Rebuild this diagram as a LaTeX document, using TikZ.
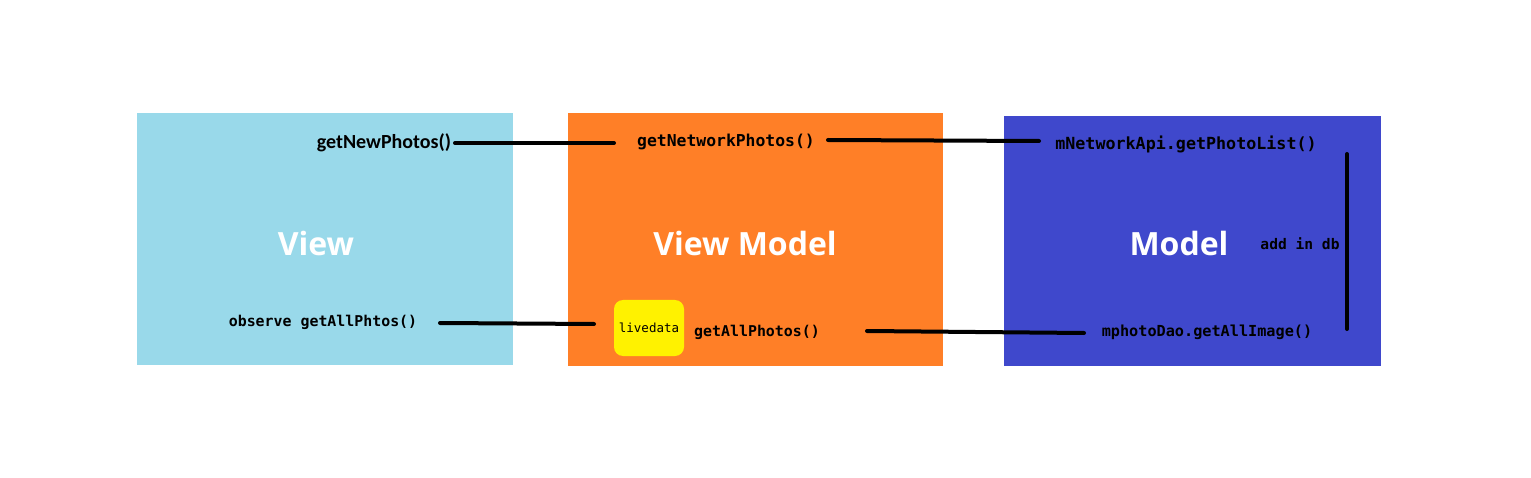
\documentclass[tikz,border=0pt]{standalone}
\usepackage{fontspec}
\newfontfamily\monof{DejaVu Sans Mono}
\newfontfamily\titlef{Open Sans}
\newfontfamily\calf{Carlito}
\definecolor{viewc}{HTML}{99D9EA}
\definecolor{vmc}{HTML}{FF7F27}
\definecolor{modc}{HTML}{3F48CC}
\definecolor{livec}{HTML}{FFF200}
\begin{document}
\begin{tikzpicture}[x=1pt,y=-1pt,
  panel/.style={draw=none,inner sep=0pt,anchor=north west},
  ttl/.style={text=white,font=\titlef\fontsize{32}{32}\selectfont\bfseries,inner sep=0pt},
  code/.style={text=black,inner sep=0pt},
  conn/.style={line width=4pt,line cap=round}]
\useasboundingbox (0,0) rectangle (1531,478);
\fill[white] (0,0) rectangle (1531,478);
% panels
\node[panel,fill=viewc,minimum width=376pt,minimum height=252pt] (view) at (137,113) {};
\node[panel,fill=vmc,minimum width=375pt,minimum height=253pt] (vm) at (568,113) {};
\node[panel,fill=modc,minimum width=377pt,minimum height=250pt] (model) at (1004,116) {};
\node[fill=livec,rounded corners=9pt,minimum width=70pt,minimum height=56pt,inner sep=0pt] (live) at (649,328) {};
% titles
\node[ttl] (tview) at (316,244) {View};
\node[ttl] (tvm) at (745,244) {View Model};
\node[ttl] (tmodel) at (1179,244) {Model};
% code labels
\node[code,font=\calf\fontsize{20}{20}\selectfont\bfseries] (newph) at (384,143) {getNewPhotos()};
\node[code,font=\monof\fontsize{16.4}{16.4}\selectfont\bfseries] (netph) at (726,142) {getNetworkPhotos()};
\node[code,font=\monof\fontsize{16.7}{16.7}\selectfont\bfseries] (api) at (1186,144) {mNetworkApi.getPhotoList()};
\node[code,font=\monof\fontsize{14.9}{14.9}\selectfont\bfseries] (obs) at (323,322) {observe getAllPhtos()};
\node[code,font=\monof\fontsize{14.9}{14.9}\selectfont\bfseries] (allph) at (757,332) {getAllPhotos()};
\node[code,font=\monof\fontsize{15.2}{15.2}\selectfont\bfseries] (dao) at (1207,332) {mphotoDao.getAllImage()};
\node[code,font=\monof\fontsize{14.6}{14.6}\selectfont\bfseries] (adddb) at (1300,244) {add in db};
\node[code,font=\monof\fontsize{12.5}{12.5}\selectfont] (livetxt) at (649,328) {livedata};
% connector ends
\coordinate (c1a) at (455,143); \coordinate (c1b) at (614,143);
\coordinate (c2a) at (828,140); \coordinate (c2b) at (1039,141);
\coordinate (c3a) at (440,323); \coordinate (c3b) at (594,324);
\coordinate (c4a) at (867,331); \coordinate (c4b) at (1084,333);
\coordinate (c5a) at (1347,154); \coordinate (c5b) at (1347,329);
\draw[conn] (c1a) -- (c1b);
\draw[conn] (c2a) -- (c2b);
\draw[conn] (c3a) -- (c3b);
\draw[conn] (c4a) -- (c4b);
\draw[conn] (c5a) -- (c5b);
\end{tikzpicture}
\end{document}
